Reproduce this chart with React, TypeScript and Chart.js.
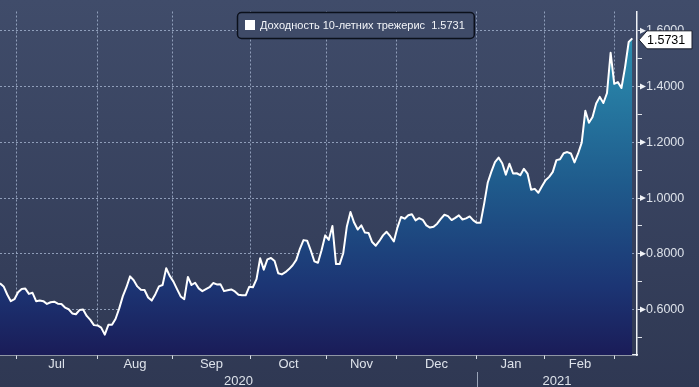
import React, { useEffect, useRef } from 'react';
import { Chart, registerables } from 'chart.js';

Chart.register(...registerables);

// ---------- data ----------
const seriesLabel = 'Доходность 10-летних трежерис';

// daily closes, trading-day index 0..175 (late Jun 2020 .. early Mar 2021)
const yields = [
  0.694, 0.683, 0.654, 0.630, 0.637, 0.662, 0.674, 0.675, 0.656, 0.660,
  0.630, 0.632, 0.630, 0.620, 0.626, 0.628, 0.621, 0.620, 0.607, 0.601,
  0.586, 0.583, 0.598, 0.600, 0.577, 0.563, 0.544, 0.543, 0.535, 0.510,
  0.545, 0.545, 0.567, 0.604, 0.648, 0.680, 0.719, 0.705, 0.683, 0.671,
  0.670, 0.643, 0.632, 0.655, 0.683, 0.688, 0.748, 0.720, 0.700, 0.673,
  0.647, 0.637, 0.717, 0.688, 0.696, 0.676, 0.666, 0.673, 0.680, 0.695,
  0.690, 0.691, 0.666, 0.669, 0.672, 0.665, 0.653, 0.651, 0.651, 0.682,
  0.680, 0.709, 0.784, 0.743, 0.780, 0.785, 0.774, 0.730, 0.726, 0.734,
  0.745, 0.759, 0.778, 0.818, 0.849, 0.847, 0.812, 0.773, 0.768, 0.813,
  0.866, 0.850, 0.900, 0.763, 0.763, 0.802, 0.898, 0.950, 0.912, 0.887,
  0.902, 0.876, 0.875, 0.842, 0.829, 0.846, 0.866, 0.879, 0.863, 0.844,
  0.894, 0.932, 0.926, 0.938, 0.942, 0.920, 0.928, 0.922, 0.902, 0.894,
  0.897, 0.908, 0.925, 0.940, 0.935, 0.921, 0.929, 0.938, 0.923, 0.927,
  0.934, 0.920, 0.911, 0.911, 0.980, 1.056, 1.095, 1.129, 1.145, 1.125,
  1.084, 1.123, 1.088, 1.089, 1.082, 1.105, 1.088, 1.030, 1.033, 1.019,
  1.042, 1.064, 1.076, 1.094, 1.136, 1.139, 1.161, 1.165, 1.160, 1.128,
  1.160, 1.199, 1.313, 1.270, 1.291, 1.339, 1.363, 1.341, 1.377, 1.521,
  1.410, 1.416, 1.395, 1.470, 1.560, 1.5731,
];

const monthLabels = ['Jul', 'Aug', 'Sep', 'Oct', 'Nov', 'Dec', 'Jan', 'Feb'];
// month boundaries in trading-day units (Jul 1 ... Mar 1)
const monthStarts = [4.43, 26.85, 47.88, 69.2, 90.5, 109.6, 132.0, 150.8, 170.2];
const yearLabels = ['2020', '2021'];
const yearStarts = [0, 132.0];

const xMin = 0;
const xMax = 176.3;
const yMin = 0.4368;
const yMax = 1.6694;
const yMajorTicks = [0.6, 0.8, 1.0, 1.2, 1.4, 1.6];
const yMinorTicks = [0.5, 0.7, 0.9, 1.1, 1.3, 1.5];

// ---------- styling ----------
const FONT = '"Liberation Sans", Arial, sans-serif';
const GRID = 'rgba(165,180,208,0.8)';
const AXIS = '#eef1f6';
const LABEL = '#dde2ea';

const isMajor = (v: number) => yMajorTicks.some((m) => Math.abs(m - v) < 1e-6);

const monthMids = monthLabels.map((_, i) => (monthStarts[i] + monthStarts[i + 1]) / 2);
const yearMids = yearLabels.map((_, i) => {
  const a = yearStarts[i];
  const b = i + 1 < yearStarts.length ? yearStarts[i + 1] : xMax;
  return (a + b) / 2;
});

const bgPlugin = {
  id: 'bg',
  beforeDraw(chart: any) {
    const { ctx, width, height } = chart;
    const g = ctx.createLinearGradient(0, 0, 0, height);
    g.addColorStop(0, '#404c6a');
    g.addColorStop(1, '#2f3853');
    ctx.save();
    ctx.fillStyle = g;
    ctx.fillRect(0, 0, width, height);
    ctx.restore();
  },
};

const decorPlugin = {
  id: 'decor',
  afterDraw(chart: any) {
    const { ctx, chartArea } = chart;
    const ys = chart.scales.y;
    const xs = chart.scales.x;
    const yr = chart.scales.xYear;
    ctx.save();

    // triangles on major y ticks
    ctx.fillStyle = '#f0f2f6';
    yMajorTicks.forEach((v) => {
      const py = ys.getPixelForValue(v);
      ctx.beginPath();
      ctx.moveTo(chartArea.right + 3, py - 3);
      ctx.lineTo(chartArea.right + 9, py);
      ctx.lineTo(chartArea.right + 3, py + 3);
      ctx.closePath();
      ctx.fill();
    });

    // year separator
    for (let i = 1; i < yearStarts.length; i++) {
      const px = Math.round(xs.getPixelForValue(yearStarts[i])) + 0.5;
      ctx.strokeStyle = '#9aa4b8';
      ctx.lineWidth = 1;
      ctx.beginPath();
      ctx.moveTo(px, yr.top);
      ctx.lineTo(px, chart.height);
      ctx.stroke();
    }

    // legend box
    const last = yields[yields.length - 1];
    const text = `${seriesLabel}  ${last.toFixed(4)}`;
    ctx.font = `11px ${FONT}`;
    const tw = ctx.measureText(text).width;
    const bx = 237.5, by = 12.5, bh = 26, bw = 23 + tw + 9;
    ctx.beginPath();
    ctx.roundRect(bx, by, bw, bh, 4);
    ctx.fillStyle = '#3f4b68';
    ctx.fill();
    ctx.strokeStyle = '#0b101b';
    ctx.lineWidth = 1.5;
    ctx.stroke();
    ctx.fillStyle = '#ffffff';
    ctx.fillRect(245, 20, 10, 10);
    ctx.fillStyle = '#f2f4f8';
    ctx.textBaseline = 'middle';
    ctx.textAlign = 'left';
    ctx.fillText(text, 260, by + bh / 2);

    // last value tag
    const cy = ys.getPixelForValue(last) + 1.5;
    const tx = chartArea.right + 2;
    ctx.beginPath();
    ctx.moveTo(tx, cy);
    ctx.lineTo(tx + 8, cy - 9);
    ctx.lineTo(692, cy - 9);
    ctx.lineTo(692, cy + 9);
    ctx.lineTo(tx + 8, cy + 9);
    ctx.closePath();
    ctx.fillStyle = '#ffffff';
    ctx.fill();
    ctx.strokeStyle = '#1a1f2c';
    ctx.lineWidth = 1;
    ctx.stroke();
    ctx.fillStyle = '#000000';
    ctx.font = `12.5px ${FONT}`;
    ctx.fillText(last.toFixed(4), tx + 8, cy + 0.5);

    ctx.restore();
  },
};

export default function App() {
  const ref = useRef<HTMLCanvasElement | null>(null);

  useEffect(() => {
    document.body.style.margin = '0';
    const canvas = ref.current;
    if (!canvas) return;
    Chart.defaults.font.family = FONT;

    const chart = new Chart(canvas, {
      type: 'line',
      data: {
        datasets: [
          {
            label: seriesLabel,
            data: yields.map((v, i) => ({ x: i, y: v })),
            borderColor: '#ffffff',
            borderWidth: 2,
            borderJoinStyle: 'round',
            pointRadius: 0,
            tension: 0,
            fill: 'start',
            backgroundColor: (c: any) => {
              const area = c.chart.chartArea;
              if (!area) return '#1f5a8c';
              const g = c.chart.ctx.createLinearGradient(0, area.top, 0, area.bottom);
              g.addColorStop(0, '#2c9bb9');
              g.addColorStop(0.12, '#2a8aad');
              g.addColorStop(0.5, '#1f5b8c');
              g.addColorStop(0.8, '#1c3574');
              g.addColorStop(1, '#1a1c58');
              return g;
            },
          } as any,
        ],
      },
      options: {
        responsive: false,
        animation: false,
        devicePixelRatio: 1,
        layout: { padding: 0 },
        plugins: { legend: { display: false }, tooltip: { enabled: false } },
        scales: {
          x: {
            type: 'linear',
            position: 'bottom',
            min: xMin,
            max: xMax,
            weight: 0,
            z: 1,
            afterBuildTicks: (s: any) => {
              s.ticks = monthStarts.map((v) => ({ value: v }));
            },
            afterFit: (s: any) => {
              s.height = 0;
            },
            grid: {
              color: GRID,
              lineWidth: 1,
              drawTicks: true,
              tickLength: 4,
              tickColor: '#d8dde6',
              tickWidth: 1,
            },
            border: { display: true, color: AXIS, width: 1.5, dash: [2, 2] },
            ticks: { display: false },
          } as any,
          xMonth: {
            type: 'linear',
            position: 'bottom',
            min: xMin,
            max: xMax,
            weight: 1,
            afterBuildTicks: (s: any) => {
              s.ticks = monthMids.map((v) => ({ value: v }));
            },
            afterFit: (s: any) => {
              s.height = 17;
            },
            grid: { display: false, drawTicks: false },
            border: { display: false },
            ticks: {
              callback: (_v: any, i: number) => monthLabels[i],
              color: LABEL,
              font: { size: 13, family: FONT },
              padding: 2,
              autoSkip: false,
              maxRotation: 0,
            },
          } as any,
          xYear: {
            type: 'linear',
            position: 'bottom',
            min: xMin,
            max: xMax,
            weight: 2,
            afterBuildTicks: (s: any) => {
              s.ticks = yearMids.map((v) => ({ value: v }));
            },
            afterFit: (s: any) => {
              s.height = 15;
            },
            grid: { display: false, drawTicks: false },
            border: { display: false },
            ticks: {
              callback: (_v: any, i: number) => yearLabels[i],
              color: LABEL,
              font: { size: 13, family: FONT },
              padding: 2,
              autoSkip: false,
              maxRotation: 0,
            },
          } as any,
          y: {
            type: 'linear',
            position: 'right',
            min: yMin,
            max: yMax,
            z: 1,
            afterBuildTicks: (s: any) => {
              s.ticks = [...yMinorTicks, ...yMajorTicks]
                .sort((a, b) => a - b)
                .map((v) => ({ value: v }));
            },
            afterFit: (s: any) => {
              s.width = 62;
            },
            grid: {
              color: (c: any) =>
                c.tick && isMajor(c.tick.value) ? GRID : 'rgba(0,0,0,0)',
              lineWidth: 1,
              drawTicks: true,
              tickLength: 5,
              tickColor: '#dfe3ea',
              tickWidth: 1,
            },
            border: { display: true, color: AXIS, width: 1.5, dash: [2, 2] },
            ticks: {
              callback: (v: any) => (isMajor(Number(v)) ? Number(v).toFixed(4) : ''),
              color: LABEL,
              font: { size: 12.5, family: FONT },
              padding: 4,
              autoSkip: false,
            },
          } as any,
        },
      },
      plugins: [bgPlugin, decorPlugin],
    });

    return () => chart.destroy();
  }, []);

  return (
    <div style={{ width: 699, height: 387 }}>
      <canvas ref={ref} width={699} height={387} style={{ display: 'block' }} />
    </div>
  );
}
